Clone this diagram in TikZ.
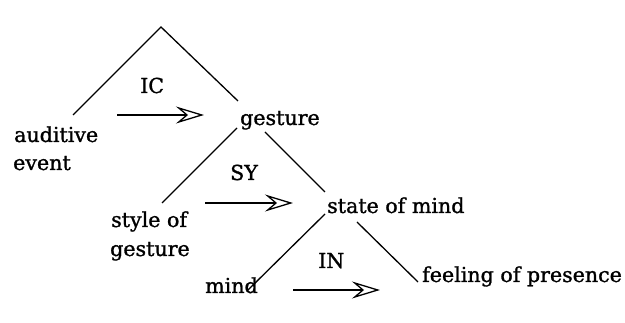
\documentclass[tikz,border=0pt]{standalone}
\usepackage{fontspec}
\setmainfont{DejaVu Serif}[FakeBold=1.2]
\usetikzlibrary{arrows.meta}
\begin{document}
\begin{tikzpicture}[x=1pt,y=-1pt,
  lbl/.style={anchor=base west, inner sep=0pt, font=\fontsize{20.6}{22}\selectfont},
  branch/.style={line width=1.3pt},
  rel/.style={line width=1.4pt, -{Stealth[open, length=28pt, width=17pt, inset=10pt, line width=1.3pt]}}]
\useasboundingbox (0,0) rectangle (625,323);
% labels
\node[lbl] (auditive) at (14,142) {auditive};
\node[lbl] (event) at (13,170) {event};
\node[lbl] (gesture) at (240,125) {gesture};
\node[lbl] (styleof) at (111,227) {style of};
\node[lbl] (gesture2) at (110,256) {gesture};
\node[lbl] (state) at (327,213) {state of mind};
\node[lbl] (mind) at (205,293) {mind};
\node[lbl] (feeling) at (422,282) {feeling of presence};
\node[lbl] (IC) at (140,93) {IC};
\node[lbl] (SY) at (230,180) {SY};
\node[lbl] (IN) at (318,268) {IN};
% tree points
\coordinate (apex) at (161,27);
\coordinate (l1) at (73,115);
\coordinate (r1) at (238,101);
\coordinate (g1) at (237,128);
\coordinate (l2) at (162,203);
\coordinate (g2) at (265,132);
\coordinate (r2) at (325,192);
\coordinate (s1) at (325,214);
\coordinate (l3) at (248,290);
\coordinate (s2) at (357,222);
\coordinate (r3) at (418,282);
\draw[branch] (l1) -- (apex) -- (r1);
\draw[branch] (l2) -- (g1);
\draw[branch] (g2) -- (r2);
\draw[branch] (l3) -- (s1);
\draw[branch] (s2) -- (r3);
% relation arrows
\coordinate (a1s) at (117,115);
\coordinate (a1e) at (204,115);
\coordinate (a2s) at (205,203);
\coordinate (a2e) at (293,203);
\coordinate (a3s) at (293,290);
\coordinate (a3e) at (380,290);
\draw[rel] (a1s) -- (a1e);
\draw[rel] (a2s) -- (a2e);
\draw[rel] (a3s) -- (a3e);
\end{tikzpicture}
\end{document}
